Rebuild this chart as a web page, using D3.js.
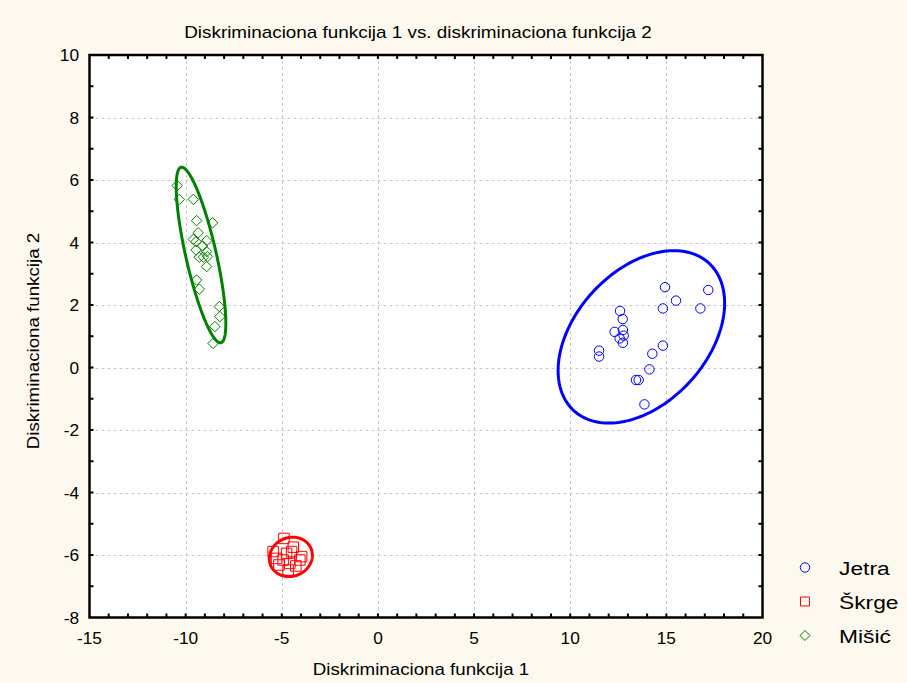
<!DOCTYPE html>
<html>
<head>
<meta charset="utf-8">
<script src="https://cdn.jsdelivr.net/npm/d3@7"></script>
<style>
  body { margin: 0; background: #fdf9ee; }
  svg { display: block; }
  text { font-family: "Liberation Sans", Arial, sans-serif; fill: #000; }
</style>
</head>
<body>
<div id="chart"></div>
<script>
// Discriminant scores
const jetraX = [14.93, 17.18, 15.5, 14.82, 16.77, 12.59, 12.73, 12.31, 12.74, 12.57, 12.74, 12.78, 11.5, 11.5, 14.82, 14.27, 14.12, 13.42, 13.56, 13.86];
const jetraY = [2.57, 2.48, 2.14, 1.89, 1.89, 1.81, 1.55, 1.14, 1.2, 0.93, 0.79, 1.02, 0.54, 0.35, 0.7, 0.44, -0.06, -0.4, -0.4, -1.18];

const skrgeX = [-4.89, -5.45, -4.75, -4.49, -3.97, -4.58, -4.93, -5.27, -4.67, -4.27, -5.15, -4.06, -4.4];
const skrgeY = [-5.47, -5.89, -5.95, -5.89, -6.05, -6.27, -6.16, -6.11, -6.48, -6.35, -6.32, -6.16, -5.75];

const misicX = [-10.44, -10.33, -9.6, -9.43, -8.6, -9.35, -9.6, -9.46, -8.91, -9.12, -9.46, -8.91, -9.29, -9.08, -8.86, -8.91, -9.43, -9.29, -8.25, -8.22, -8.48, -8.57];
const misicY = [5.82, 5.38, 5.38, 4.7, 4.63, 4.31, 4.1, 4.03, 4.06, 3.89, 3.76, 3.71, 3.53, 3.53, 3.55, 3.23, 2.8, 2.51, 1.95, 1.63, 1.31, 0.77];

// Ellipses: x = cx + ax*cos(t), y = cy + ay*cos(t - phi)
const groups = ["Jetra", "Škrge", "Mišić"];
const groupColors = ["#0000ff", "#ff0000", "#008000"];
const ellCx = [13.7, -4.53, -9.2];
const ellCy = [0.98, -6.06, 3.6];
const ellAx = [4.33, 1.12, 1.29];
const ellAy = [2.76, 0.63, 2.81];
const ellPhi = [67, 85, 141];

const xTicks = [-15, -10, -5, 0, 5, 10, 15, 20];
const yTicks = [-8, -6, -4, -2, 0, 2, 4, 6, 8, 10];

const W = 907, H = 683;
const svg = d3.select("#chart").append("svg").attr("width", W).attr("height", H);

svg.append("rect").attr("width", W).attr("height", H).attr("fill", "#fdf9ee");

const x = d3.scaleLinear().domain([-15, 20]).range([89.5, 762.5]);
const y = d3.scaleLinear().domain([-8, 10]).range([617.5, 55]);

svg.append("rect")
  .attr("x", x(-15)).attr("y", y(10))
  .attr("width", x(20) - x(-15)).attr("height", y(-8) - y(10))
  .attr("fill", "#fff");

// grid
const grid = svg.append("g").attr("stroke", "#c8c8c8").attr("stroke-dasharray", "3,3").attr("stroke-width", 1);
grid.selectAll(".gx").data(xTicks.slice(1, -1)).enter().append("line")
  .attr("x1", d => Math.round(x(d)) + 0.5).attr("x2", d => Math.round(x(d)) + 0.5)
  .attr("y1", y(10)).attr("y2", y(-8));
grid.selectAll(".gy").data(yTicks.slice(1, -1)).enter().append("line")
  .attr("y1", d => Math.round(y(d)) + 0.5).attr("y2", d => Math.round(y(d)) + 0.5)
  .attr("x1", x(-15)).attr("x2", x(20));

// minor/major ticks on all sides, pointing inward
const ticks = svg.append("g").attr("stroke", "#000").attr("stroke-width", 2);
const xAll = d3.range(-14, 20);
const yAll = d3.range(-7, 10);
ticks.selectAll(".tb").data(xAll).enter().append("line")
  .attr("x1", d => x(d)).attr("x2", d => x(d)).attr("y1", y(-8)).attr("y2", y(-8) - 4);
ticks.selectAll(".tt").data(xAll).enter().append("line")
  .attr("x1", d => x(d)).attr("x2", d => x(d)).attr("y1", y(10)).attr("y2", y(10) + 4);
ticks.selectAll(".tl").data(yAll).enter().append("line")
  .attr("y1", d => y(d)).attr("y2", d => y(d)).attr("x1", x(-15)).attr("x2", x(-15) + 4);
ticks.selectAll(".tr").data(yAll).enter().append("line")
  .attr("y1", d => y(d)).attr("y2", d => y(d)).attr("x1", x(20)).attr("x2", x(20) - 4);

svg.append("rect")
  .attr("x", x(-15)).attr("y", y(10))
  .attr("width", x(20) - x(-15)).attr("height", y(-8) - y(10))
  .attr("fill", "none").attr("stroke", "#000").attr("stroke-width", 2.5);

// stretched text helper (reference font is a bit wide)
function label(g, px, py, str, size, sx, anchor, rot) {
  g.append("text")
    .attr("transform", `translate(${px},${py}) rotate(${rot || 0}) scale(${sx},1)`)
    .attr("font-size", size)
    .attr("text-anchor", anchor)
    .text(str);
}

const txt = svg.append("g");
xTicks.forEach(d => label(txt, x(d), 644, d, 16, 1.08, "middle"));
yTicks.forEach(d => label(txt, 79, y(d) + 6, d, 16, 1.08, "end"));

label(txt, 418, 38, "Diskriminaciona funkcija 1 vs. diskriminaciona funkcija 2", 16, 1.18, "middle");
label(txt, 421, 675, "Diskriminaciona funkcija 1", 16, 1.17, "middle");
label(txt, 39, 341, "Diskriminaciona funkcija 2", 16, 1.17, "middle", -90);

// ellipses
const ell = svg.append("g").attr("fill", "none").attr("stroke-width", 3);
const line = d3.line().curve(d3.curveLinearClosed);
groups.forEach((g, i) => {
  const phi = ellPhi[i] * Math.PI / 180;
  const pts = d3.range(0, 2 * Math.PI, Math.PI / 90).map(t => [
    x(ellCx[i] + ellAx[i] * Math.cos(t)),
    y(ellCy[i] + ellAy[i] * Math.cos(t - phi))
  ]);
  ell.append("path").attr("d", line(pts)).attr("stroke", groupColors[i]);
});

// markers
const sym = [d3.symbolCircle, d3.symbolSquare, d3.symbolDiamond2];
const symSize = [70, 110, 70];
const series = [
  d3.zip(jetraX, jetraY),
  d3.zip(skrgeX, skrgeY),
  d3.zip(misicX, misicY)
];
const marks = svg.append("g").attr("fill", "none").attr("stroke-width", 1);
series.forEach((s, i) => {
  marks.selectAll(".m" + i).data(s).enter().append("path")
    .attr("d", d3.symbol(sym[i], symSize[i]))
    .attr("transform", d => `translate(${x(d[0])},${y(d[1])})`)
    .attr("stroke", groupColors[i]);
});

// legend
const legSize = [70, 80, 64];
const leg = svg.append("g");
groups.forEach((g, i) => {
  const ly = 567.5 + i * 34;
  leg.append("path")
    .attr("d", d3.symbol(sym[i], legSize[i]))
    .attr("transform", `translate(805,${ly})`)
    .attr("fill", "none").attr("stroke", groupColors[i]).attr("stroke-width", 1);
  label(leg, 839, ly + 7, g, 19, 1.2, "start");
});
</script>
</body>
</html>
